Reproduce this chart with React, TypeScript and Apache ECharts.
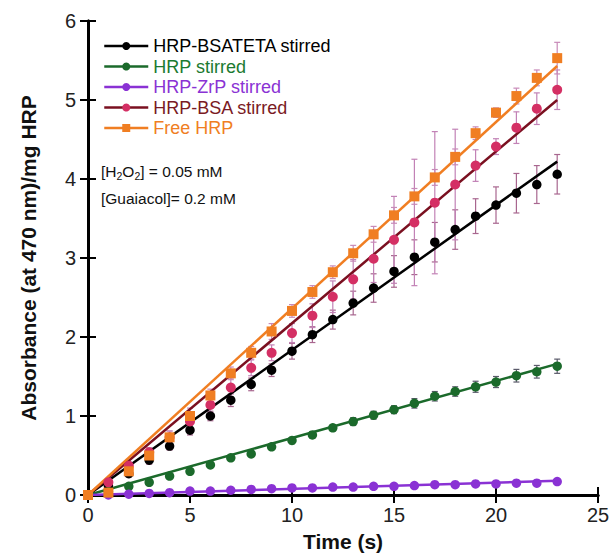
import React, { useEffect, useRef } from "react";
import * as echarts from "echarts";

const timeS = [0, 1, 2, 3, 4, 5, 6, 7, 8, 9, 10, 11, 12, 13, 14, 15, 16, 17, 18, 19, 20, 21, 22, 23];

const bsateta = [0, 0.12, 0.27, 0.44, 0.62, 0.82, 1.0, 1.2, 1.4, 1.58, 1.82, 2.03, 2.22, 2.43, 2.62, 2.83, 3.01, 3.2, 3.36, 3.53, 3.67, 3.82, 3.93, 4.06];
const bsatetaErr = [0, 0.03, 0.04, 0.05, 0.05, 0.06, 0.06, 0.08, 0.08, 0.08, 0.1, 0.1, 0.12, 0.15, 0.18, 0.2, 0.22, 0.25, 0.25, 0.22, 0.23, 0.25, 0.24, 0.25];

const hrp = [0, 0.04, 0.11, 0.16, 0.24, 0.3, 0.38, 0.47, 0.52, 0.61, 0.69, 0.76, 0.85, 0.93, 1.01, 1.08, 1.16, 1.25, 1.31, 1.37, 1.43, 1.51, 1.56, 1.63];
const hrpErr = [0, 0.01, 0.01, 0.02, 0.02, 0.02, 0.03, 0.03, 0.03, 0.03, 0.04, 0.04, 0.04, 0.05, 0.05, 0.05, 0.06, 0.06, 0.06, 0.07, 0.07, 0.08, 0.08, 0.09];

const zrp = [0, 0.0, 0.01, 0.02, 0.03, 0.05, 0.05, 0.06, 0.07, 0.08, 0.09, 0.09, 0.1, 0.1, 0.11, 0.11, 0.12, 0.13, 0.13, 0.14, 0.14, 0.15, 0.15, 0.17];
const zrpErr = [0, 0, 0, 0, 0, 0, 0, 0, 0, 0, 0, 0, 0, 0, 0, 0, 0, 0, 0, 0, 0, 0, 0, 0];

const bsa = [0, 0.16, 0.37, 0.54, 0.73, 0.93, 1.14, 1.36, 1.61, 1.8, 2.05, 2.27, 2.51, 2.73, 2.99, 3.23, 3.45, 3.7, 3.93, 4.17, 4.41, 4.65, 4.89, 5.13];
const bsaErr = [0, 0.03, 0.05, 0.06, 0.08, 0.1, 0.1, 0.12, 0.1, 0.1, 0.12, 0.15, 0.2, 0.25, 0.3, 0.55, 0.8, 0.9, 0.7, 0.2, 0.1, 0.2, 0.2, 0.25];

const freeHrp = [0, 0.03, 0.3, 0.5, 0.73, 1.0, 1.26, 1.54, 1.8, 2.07, 2.33, 2.57, 2.82, 3.06, 3.3, 3.54, 3.78, 4.02, 4.28, 4.58, 4.84, 5.05, 5.28, 5.53];
const freeHrpErr = [0, 0.05, 0.06, 0.08, 0.08, 0.1, 0.08, 0.08, 0.08, 0.1, 0.08, 0.08, 0.08, 0.1, 0.1, 0.1, 0.1, 0.1, 0.1, 0.08, 0.06, 0.1, 0.1, 0.2];

// linear fits (endpoints at t = 0 and t = 23)
const fitT = [0, 23];
const fitBsateta = [0, 4.22];
const fitHrp = [0, 1.66];
const fitZrp = [0, 0.18];
const fitBsa = [0, 5.0];
const fitFree = [0, 5.43];

const xTicks = [0, 5, 10, 15, 20, 25];
const yTicks = [0, 1, 2, 3, 4, 5, 6];

const FONT = "'Liberation Sans', Arial, Helvetica, sans-serif";

const groups = [
  { name: "HRP-BSATETA stirred", v: bsateta, err: bsatetaErr, fit: fitBsateta, line: "#000000", marker: "#000000", text: "#000000", errColor: "#a8668f", symbol: "circle", size: 9.5 },
  { name: "HRP stirred", v: hrp, err: hrpErr, fit: fitHrp, line: "#1b6a2b", marker: "#1b6a2b", text: "#1b7a30", errColor: "#5a5a6a", symbol: "circle", size: 9.5 },
  { name: "HRP-ZrP stirred", v: zrp, err: zrpErr, fit: fitZrp, line: "#8a32d4", marker: "#8a32d4", text: "#8a32d4", errColor: "#8a32d4", symbol: "circle", size: 9.5 },
  { name: "HRP-BSA stirred", v: bsa, err: bsaErr, fit: fitBsa, line: "#7a1020", marker: "#d42f64", text: "#7a1a24", errColor: "#c282b6", symbol: "circle", size: 10 },
  { name: "Free HRP", v: freeHrp, err: freeHrpErr, fit: fitFree, line: "#f07e22", marker: "#f07e22", text: "#f07e22", errColor: "#c88ab8", symbol: "rect", size: 10 },
];

export default function App() {
  const ref = useRef<HTMLDivElement>(null);
  useEffect(() => {
    document.body.style.margin = "0";
    const chart = echarts.init(ref.current as HTMLDivElement, null, { renderer: "svg" });

    const series: any[] = [];
    groups.forEach((g) => {
      const hasErr = g.err.some((e) => e > 0);
      if (hasErr) {
        series.push({
          type: "custom",
          name: g.name + " err",
          silent: true,
          z: 1,
          renderItem: (params: any, api: any) => {
            const x = api.value(0);
            const lo = api.value(1);
            const hi = api.value(2);
            const pt = api.coord([x, hi]);
            const pb = api.coord([x, lo]);
            const cap = 3;
            const st = { stroke: g.errColor, lineWidth: 1.2 };
            return {
              type: "group",
              children: [
                { type: "line", shape: { x1: pt[0], y1: pt[1], x2: pb[0], y2: pb[1] }, style: st },
                { type: "line", shape: { x1: pt[0] - cap, y1: pt[1], x2: pt[0] + cap, y2: pt[1] }, style: st },
                { type: "line", shape: { x1: pb[0] - cap, y1: pb[1], x2: pb[0] + cap, y2: pb[1] }, style: st },
              ],
            };
          },
          encode: { x: 0, y: [1, 2] },
          data: timeS.map((t, i) => [t, g.v[i] - g.err[i], g.v[i] + g.err[i]]),
        });
      }
    });
    groups.forEach((g) => {
      series.push({
        type: "line",
        name: g.name + " fit",
        silent: true,
        z: 2,
        showSymbol: false,
        lineStyle: { color: g.line, width: 2.5 },
        data: fitT.map((t, i) => [t, g.fit[i]]),
      });
    });
    groups.forEach((g, gi) => {
      series.push({
        type: "line",
        name: g.name,
        z: 3 + gi,
        symbol: g.symbol,
        symbolSize: g.size,
        showAllSymbol: true,
        itemStyle: { color: g.marker },
        lineStyle: { color: g.line, width: 2.5, opacity: 0 },
        data: timeS.map((t, i) => [t, g.v[i]]),
      });
    });

    const axisCommon = {
      type: "value" as const,
      axisLine: { show: true, lineStyle: { color: "#000", width: 3 } },
      axisTick: { show: true, inside: true, length: 8, lineStyle: { color: "#000", width: 2 } },
      splitLine: { show: false },
    };

    chart.setOption({
      animation: false,
      backgroundColor: "#ffffff",
      grid: { left: 88, right: 15, top: 21, bottom: 60 },
      legend: {
        orient: "vertical",
        left: 103,
        top: 37,
        padding: 0,
        itemWidth: 44,
        itemHeight: 10,
        itemGap: 2.5,
        textStyle: { fontSize: 18, fontFamily: FONT, lineHeight: 18 },
        data: groups.map((g) => ({
          name: g.name,
          textStyle: { color: g.text },
          lineStyle: { color: g.line, width: 2.5, opacity: 1 },
        })),
      },
      xAxis: [
        {
          ...axisCommon,
          position: "bottom",
          min: xTicks[0],
          max: xTicks[xTicks.length - 1],
          interval: 5,
          axisLabel: { fontSize: 20, color: "#222", fontFamily: FONT, margin: 10 },
          name: "Time (s)",
          nameLocation: "middle",
          nameGap: 36,
          nameTextStyle: { fontSize: 21, fontWeight: "bold", color: "#111", fontFamily: FONT },
        },
        {
          ...axisCommon,
          position: "top",
          min: xTicks[0],
          max: xTicks[xTicks.length - 1],
          interval: 5,
          axisLabel: { show: false },
        },
      ],
      yAxis: [
        {
          ...axisCommon,
          position: "left",
          min: yTicks[0],
          max: yTicks[yTicks.length - 1],
          interval: 1,
          axisLabel: { fontSize: 20, color: "#222", fontFamily: FONT, margin: 12 },
          name: "Absorbance (at 470 nm)/mg HRP",
          nameLocation: "middle",
          nameGap: 49,
          nameTextStyle: { fontSize: 21, fontWeight: "bold", color: "#111", fontFamily: FONT },
        },
        {
          ...axisCommon,
          position: "right",
          min: yTicks[0],
          max: yTicks[yTicks.length - 1],
          interval: 1,
          axisLabel: { show: false },
        },
      ],
      graphic: [
        {
          type: "text",
          left: 101,
          top: 163,
          style: {
            text: "[H{sub|2}O{sub|2}] = 0.05 mM",
            fontSize: 15.5,
            fontFamily: FONT,
            fill: "#111",
            rich: {
              sub: { fontSize: 10.5, fontFamily: FONT, fill: "#111", padding: [10, 0, 0, 0] },
            },
          },
        },
        {
          type: "text",
          left: 101,
          top: 190,
          style: {
            text: "[Guaiacol]= 0.2 mM",
            fontSize: 15.5,
            fontFamily: FONT,
            fill: "#111",
          },
        },
      ],
      series,
    });

    return () => chart.dispose();
  }, []);
  return <div ref={ref} style={{ width: 613, height: 557 }} />;
}
